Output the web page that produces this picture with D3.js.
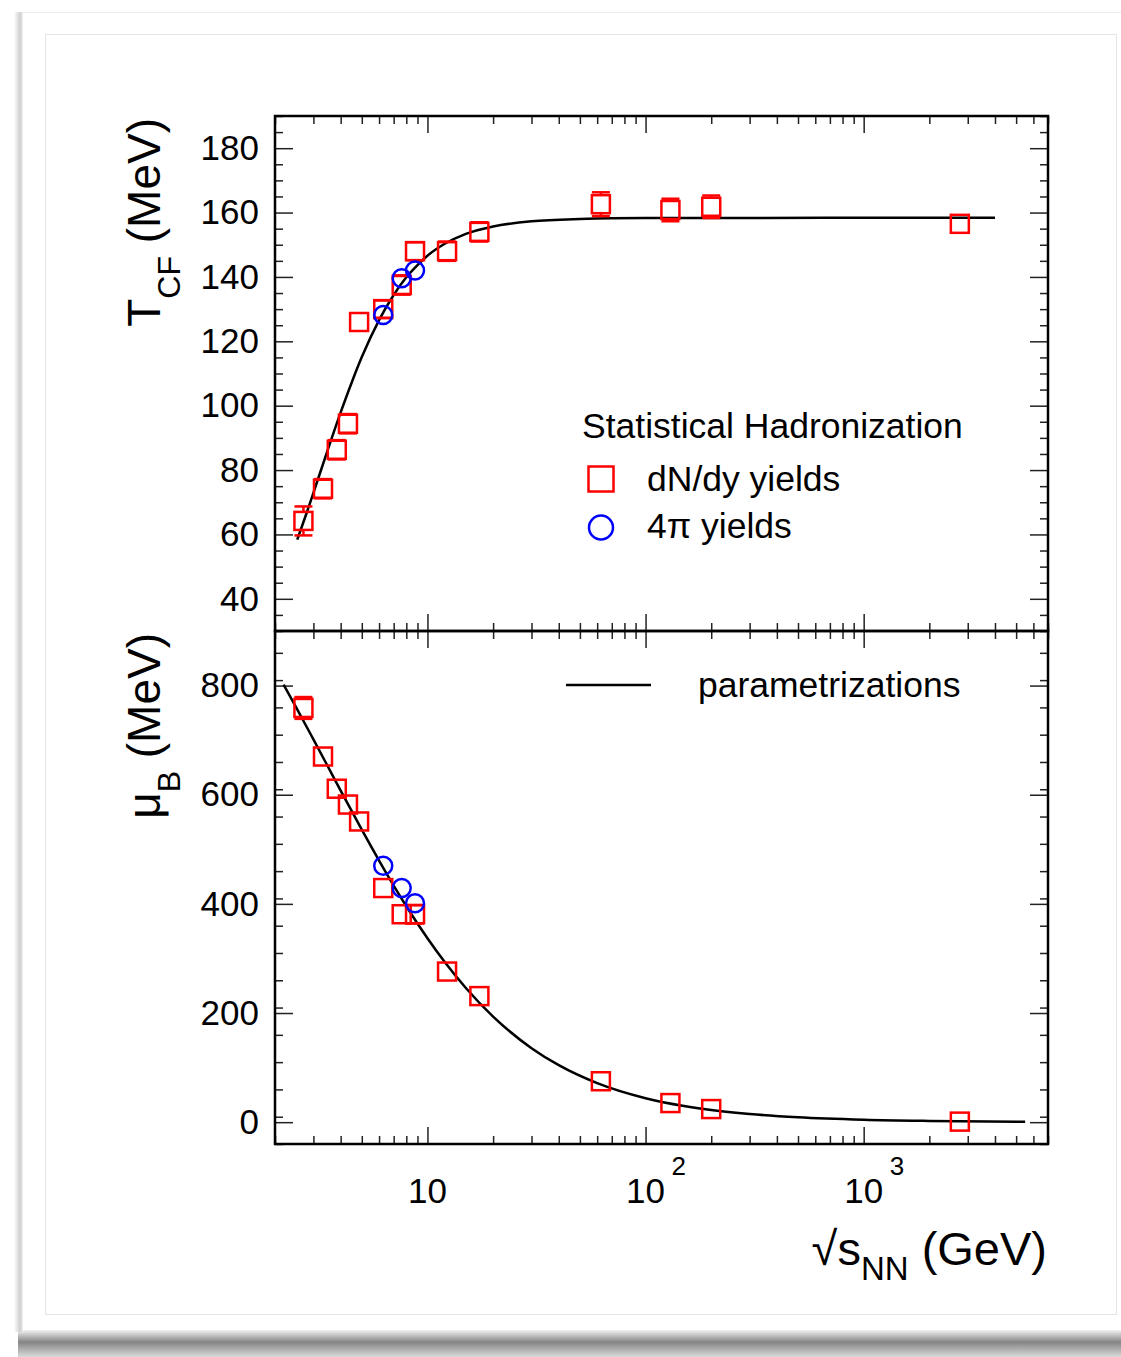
<!DOCTYPE html>
<html>
<head>
<meta charset="utf-8">
<style>
  body { margin: 0; background: #fff; }
  svg { display: block; font-family: "Liberation Sans", Arial, sans-serif; }
</style>
<title>Freeze-out parameters</title>
</head>
<body>
<script src="https://cdn.jsdelivr.net/npm/d3@7/dist/d3.min.js"></script>
<script>

// dN/dy fits (squares)
var sqrtS = [2.7, 3.32, 3.84, 4.32, 4.86, 6.27, 7.62, 8.77, 12.3, 17.3, 62.4, 130, 200, 2760];
var tDndy = [64.2, 74.2, 86.3, 94.4, 126, 130, 137.5, 148, 148, 154, 162.6, 160.8, 161.8, 156.5];
var tDndyErr = [4.5, 3, 3, 3, 0, 2.7, 3, 2.8, 3, 3, 3.7, 3.5, 3.5, 0];
var muDndy = [759, 670, 611, 582, 551, 429, 381, 381, 276, 231, 75, 35, 24, 1];
var muDndyErr = [20, 0, 0, 0, 0, 0, 0, 17, 0, 0, 0, 0, 0, 0];

// 4pi fits (circles)
var sqrtS4pi = [6.27, 7.62, 8.77];
var t4pi = [128.2, 139.6, 142];
var mu4pi = [470, 429, 401];

// parametrization curves
var curveST = [2.53, 2.8, 3, 3.5, 4, 4.5, 5, 6, 7, 8, 9, 10, 12, 15, 20, 30, 50, 100, 4000];
var curveT = [58.4, 66.9, 72.9, 86.5, 97.9, 107.3, 115.1, 126.6, 134.4, 139.9, 143.7, 146.6, 150.3, 153.4, 155.7, 157.3, 158.0, 158.3, 158.4];
var curveSMu = [2.19, 2.5, 3, 3.5, 4, 5, 6, 7, 8, 10, 12, 15, 20, 30, 40, 60, 100, 150, 200, 300, 500, 1000, 2000, 5500];
var curveMu = [801.8, 760.2, 701.4, 651.2, 607.6, 535.9, 479.3, 433.5, 395.7, 337.0, 293.4, 245.8, 193.4, 135.6, 104.4, 71.5, 43.9, 29.6, 22.3, 15.0, 9.0, 4.5, 2.3, 0.8];

var tTicks = [40, 60, 80, 100, 120, 140, 160, 180];
var muTicks = [0, 200, 400, 600, 800];
var decades = [10, 100, 1000];

var W = 1121, H = 1357;
var left = 275, right = 1048, top1 = 116, mid = 631, bot = 1144;

var svg = d3.select("body").append("svg")
    .attr("width", W)
    .attr("height", H);

// card + shadow
var defs = svg.append("defs");
var gb = defs.append("linearGradient").attr("id", "shB")
    .attr("x1", 0).attr("y1", 0).attr("x2", 0).attr("y2", 1);
gb.append("stop").attr("offset", 0).attr("stop-color", "#f2f2f2");
gb.append("stop").attr("offset", 0.45).attr("stop-color", "#858585");
gb.append("stop").attr("offset", 1).attr("stop-color", "#dadada");
var gl = defs.append("linearGradient").attr("id", "shL")
    .attr("x1", 0).attr("y1", 0).attr("x2", 1).attr("y2", 0);
gl.append("stop").attr("offset", 0).attr("stop-color", "#ffffff");
gl.append("stop").attr("offset", 0.6).attr("stop-color", "#cfcfcf");
gl.append("stop").attr("offset", 1).attr("stop-color", "#f4f4f4");

svg.append("rect").attr("x", 18).attr("y", 1330).attr("width", W - 18).attr("height", 27)
    .attr("fill", "url(#shB)");
svg.append("rect").attr("x", 14).attr("y", 12).attr("width", 10).attr("height", 1320)
    .attr("fill", "url(#shL)");
svg.append("rect").attr("x", 22.5).attr("y", 12.5).attr("width", W).attr("height", 1318)
    .attr("fill", "#fff").attr("stroke", "#ececec");
svg.append("rect").attr("x", 45.5).attr("y", 34.5).attr("width", 1071).attr("height", 1280)
    .attr("fill", "#fff").attr("stroke", "#e4e4e4");

// scales
var x = d3.scaleLog().domain([2, 7000]).range([left, right]);
var yT = d3.scaleLinear().domain([30, 190]).range([mid, top1]);
var yM = d3.scaleLinear().domain([-40, 900]).range([bot, mid]);

var allX = x.ticks().filter(function(d) { return d >= 2 && d <= 7000; });
var minorX = allX.filter(function(d) { return decades.indexOf(d) < 0; });

function styleAxis(g) {
  g.select(".domain").remove();
  g.selectAll(".tick line").attr("stroke", "#222").attr("stroke-width", 1.5);
  g.selectAll(".tick text").style("font-size", "35px").attr("fill", "#000");
}

function yAxes(scale, major, minor) {
  svg.append("g").attr("transform", "translate(" + left + ",0)")
    .call(d3.axisLeft(scale).tickValues(major).tickSize(-18).tickPadding(16))
    .call(styleAxis);
  svg.append("g").attr("transform", "translate(" + left + ",0)")
    .call(d3.axisLeft(scale).tickValues(minor).tickSize(-8).tickFormat(""))
    .call(styleAxis);
  svg.append("g").attr("transform", "translate(" + right + ",0)")
    .call(d3.axisRight(scale).tickValues(major).tickSize(-18).tickFormat(""))
    .call(styleAxis);
  svg.append("g").attr("transform", "translate(" + right + ",0)")
    .call(d3.axisRight(scale).tickValues(minor).tickSize(-8).tickFormat(""))
    .call(styleAxis);
}

function xAxes(yPos, dir) {
  // dir = 1: ticks go down (top edge), -1: ticks go up (bottom edge)
  var mk = dir > 0 ? d3.axisTop : d3.axisBottom;
  svg.append("g").attr("transform", "translate(0," + yPos + ")")
    .call(mk(x).tickValues(decades).tickSize(-17).tickFormat(""))
    .call(styleAxis);
  svg.append("g").attr("transform", "translate(0," + yPos + ")")
    .call(mk(x).tickValues(minorX).tickSize(-8).tickFormat(""))
    .call(styleAxis);
}

var minorT = d3.range(30, 191, 5).filter(function(d) { return d % 20 != 0; });
var minorMu = d3.range(-40, 901, 50).filter(function(d) { return d % 200 != 0; });

yAxes(yT, tTicks, minorT);
yAxes(yM, muTicks, minorMu);
xAxes(top1, 1);
xAxes(mid, -1);
xAxes(mid, 1);
xAxes(bot, -1);

// x tick labels 10, 10^2, 10^3
decades.forEach(function(d, i) {
  svg.append("text")
    .attr("x", x(d)).attr("y", 1203)
    .attr("text-anchor", "middle")
    .style("font-size", "35px")
    .text("10");
  if (i > 0) {
    svg.append("text")
      .attr("x", x(d) + 26).attr("y", 1175)
      .style("font-size", "26px")
      .text(String(i + 1));
  }
});

// curves
var lineT = d3.line()
  .x(function(d, i) { return x(curveST[i]); })
  .y(function(d) { return yT(d); })
  .curve(d3.curveMonotoneX);
var lineMu = d3.line()
  .x(function(d, i) { return x(curveSMu[i]); })
  .y(function(d) { return yM(d); })
  .curve(d3.curveMonotoneX);

svg.append("path").attr("d", lineT(curveT))
  .attr("fill", "none").attr("stroke", "#000").attr("stroke-width", 2.5);
svg.append("path").attr("d", lineMu(curveMu))
  .attr("fill", "none").attr("stroke", "#000").attr("stroke-width", 2.5);

// markers
var half = 9;
function squares(vals, errs, scale) {
  var g = svg.append("g").attr("stroke", "#ff0000").attr("stroke-width", 2.5).attr("fill", "none");
  sqrtS.forEach(function(s, i) {
    var cx = x(s), cy = scale(vals[i]);
    if (errs[i] > 0) {
      var yHi = scale(vals[i] + errs[i]), yLo = scale(vals[i] - errs[i]);
      if (cy - yHi > half) g.append("line").attr("x1", cx).attr("x2", cx).attr("y1", yHi).attr("y2", cy - half);
      if (yLo - cy > half) g.append("line").attr("x1", cx).attr("x2", cx).attr("y1", cy + half).attr("y2", yLo);
      g.append("line").attr("x1", cx - half).attr("x2", cx + half).attr("y1", yHi).attr("y2", yHi);
      g.append("line").attr("x1", cx - half).attr("x2", cx + half).attr("y1", yLo).attr("y2", yLo);
    }
    g.append("rect").attr("x", cx - half).attr("y", cy - half)
      .attr("width", 2 * half).attr("height", 2 * half);
  });
}
function circles(vals, scale) {
  svg.append("g").selectAll("circle")
    .data(vals)
    .enter().append("circle")
      .attr("cx", function(d, i) { return x(sqrtS4pi[i]); })
      .attr("cy", function(d) { return scale(d); })
      .attr("r", 9)
      .attr("fill", "none")
      .attr("stroke", "#0000ff")
      .attr("stroke-width", 2.5);
}
squares(tDndy, tDndyErr, yT);
squares(muDndy, muDndyErr, yM);
circles(t4pi, yT);
circles(mu4pi, yM);

// frames
svg.append("rect").attr("x", left).attr("y", top1).attr("width", right - left).attr("height", mid - top1)
  .attr("fill", "none").attr("stroke", "#000").attr("stroke-width", 2.5);
svg.append("rect").attr("x", left).attr("y", mid).attr("width", right - left).attr("height", bot - mid)
  .attr("fill", "none").attr("stroke", "#000").attr("stroke-width", 2.5);

// axis titles
var tt = svg.append("text")
  .attr("transform", "translate(160,118) rotate(-90)")
  .attr("text-anchor", "end")
  .style("font-size", "46px");
tt.append("tspan").text("T");
tt.append("tspan").attr("dy", 20).style("font-size", "32px").text("CF");
tt.append("tspan").attr("dy", -20).text("\u00a0(MeV)");

var tm = svg.append("text")
  .attr("transform", "translate(160,633) rotate(-90)")
  .attr("text-anchor", "end")
  .style("font-size", "46px");
tm.append("tspan").text("\u03bc");
tm.append("tspan").attr("dy", 20).style("font-size", "32px").text("B");
tm.append("tspan").attr("dy", -20).text("\u00a0(MeV)");

var tx = svg.append("text")
  .attr("x", 1047).attr("y", 1265)
  .attr("text-anchor", "end")
  .style("font-size", "47px");
tx.append("tspan").text("\u221as");
tx.append("tspan").attr("dy", 15).style("font-size", "33px").text("NN");
tx.append("tspan").attr("dy", -15).text("\u00a0(GeV)");

// legends
svg.append("text").attr("x", 582).attr("y", 438).style("font-size", "35.5px").text("Statistical Hadronization");
svg.append("rect").attr("x", 601 - 12.5).attr("y", 479 - 12.5).attr("width", 25).attr("height", 25)
  .attr("fill", "none").attr("stroke", "#ff0000").attr("stroke-width", 2.5);
svg.append("text").attr("x", 647).attr("y", 491).style("font-size", "35.5px").text("dN/dy yields");
svg.append("circle").attr("cx", 601).attr("cy", 527.5).attr("r", 12)
  .attr("fill", "none").attr("stroke", "#0000ff").attr("stroke-width", 2.5);
svg.append("text").attr("x", 647).attr("y", 538).style("font-size", "35.5px").text("4\u03c0 yields");

svg.append("line").attr("x1", 566).attr("x2", 651).attr("y1", 685).attr("y2", 685)
  .attr("stroke", "#000").attr("stroke-width", 2.5);
svg.append("text").attr("x", 698).attr("y", 697).style("font-size", "35.5px").text("parametrizations");

</script>
</body>
</html>
